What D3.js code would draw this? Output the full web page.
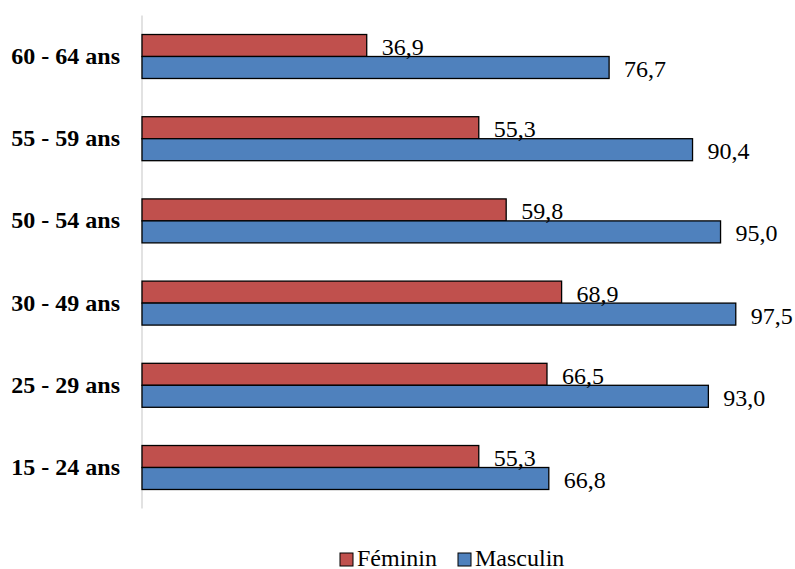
<!DOCTYPE html>
<html>
<head>
<meta charset="utf-8">
<title>Taux par âge et sexe</title>
<script src="https://cdn.jsdelivr.net/npm/d3@7"></script>
<style>
  body { margin: 0; background: #fff; }
  svg text { font-family: "Liberation Serif", "Times New Roman", Times, serif; fill: #000; }
  .cat { font-weight: bold; font-size: 24px; }
  .val { font-size: 24px; }
  .leg { font-size: 24px; }
</style>
</head>
<body>
<div id="chart"></div>
<script>
// data, top to bottom as shown
var categories = ["60 - 64 ans", "55 - 59 ans", "50 - 54 ans", "30 - 49 ans", "25 - 29 ans", "15 - 24 ans"];
var feminin  = [36.9, 55.3, 59.8, 68.9, 66.5, 55.3];
var masculin = [76.7, 90.4, 95.0, 97.5, 93.0, 66.8];
var seriesNames = ["Féminin", "Masculin"];
var seriesColors = ["#C0504D", "#4F81BD"];

var width = 795, height = 569;

var svg = d3.select("#chart").append("svg")
  .attr("width", width)
  .attr("height", height);

var x = d3.scaleLinear().domain([0, 100]).range([142, 751]);
var y = d3.scaleBand().domain(categories).range([15.4, 508.6])
  .paddingInner(0.465).paddingOuter(0.2325);
var sub = d3.scaleBand().domain(seriesNames).range([0, y.bandwidth()]);

// vertical axis line
svg.append("line")
  .attr("x1", x(0)).attr("x2", x(0))
  .attr("y1", y.range()[0]).attr("y2", y.range()[1])
  .attr("stroke", "#D9D9D9").attr("stroke-width", 1.5);

// category labels
svg.selectAll(".cat").data(categories).join("text")
  .attr("class", "cat")
  .attr("x", 120)
  .attr("y", d => y(d) + y.bandwidth() / 2 + 7.5)
  .attr("text-anchor", "end")
  .text(d => d);

var fmt = v => v.toFixed(1).replace(".", ",");

var rows = [];
categories.forEach((c, i) => {
  rows.push({cat: c, s: 0, v: feminin[i]});
  rows.push({cat: c, s: 1, v: masculin[i]});
});

svg.selectAll(".bar").data(rows).join("rect")
  .attr("class", "bar")
  .attr("x", x(0))
  .attr("y", d => y(d.cat) + sub(seriesNames[d.s]))
  .attr("width", d => x(d.v) - x(0))
  .attr("height", sub.bandwidth())
  .attr("fill", d => seriesColors[d.s])
  .attr("stroke", "#000")
  .attr("stroke-width", 1.3);

svg.selectAll(".val").data(rows).join("text")
  .attr("class", "val")
  .attr("x", d => x(d.v) + 15)
  .attr("y", d => y(d.cat) + sub(seriesNames[d.s]) + sub.bandwidth() - 1.5)
  .text(d => fmt(d.v));

// legend
var legX = [340, 458];
var leg = svg.selectAll(".legitem").data(seriesNames).join("g")
  .attr("class", "legitem")
  .attr("transform", (d, i) => "translate(" + legX[i] + ",553)");
leg.append("rect")
  .attr("width", 13).attr("height", 13)
  .attr("fill", (d, i) => seriesColors[i])
  .attr("stroke", "#000").attr("stroke-width", 1);
leg.append("text")
  .attr("class", "leg")
  .attr("x", 17).attr("y", 12.5)
  .text(d => d);
</script>
</body>
</html>
